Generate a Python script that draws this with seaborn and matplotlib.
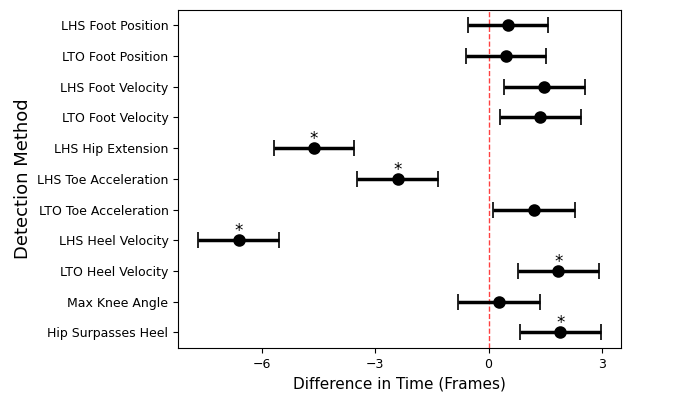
import numpy as np
import pandas as pd
import seaborn as sns
from matplotlib import pyplot as plt

methods = [
    "LHS Foot Position",
    "LTO Foot Position",
    "LHS Foot Velocity",
    "LTO Foot Velocity",
    "LHS Hip Extension",
    "LHS Toe Acceleration",
    "LTO Toe Acceleration",
    "LHS Heel Velocity",
    "LTO Heel Velocity",
    "Max Knee Angle",
    "Hip Surpasses Heel",
]
mean_diff = [0.52, 0.47, 1.48, 1.37, -4.62, -2.40, 1.21, -6.60, 1.85, 0.28, 1.90]
ci_low = [-0.54, -0.60, 0.41, 0.31, -5.68, -3.47, 0.12, -7.68, 0.79, -0.80, 0.83]
ci_high = [1.58, 1.53, 2.55, 2.44, -3.55, -1.34, 2.28, -5.53, 2.92, 1.36, 2.97]
significant = [False, False, False, False, True, True, False, True, True, False, True]

df = pd.DataFrame(
    {"Method": methods, "Mean": mean_diff, "Low": ci_low, "High": ci_high, "Sig": significant}
)

sns.set_style(
    "ticks",
    {
        "text.color": "black",
        "axes.labelcolor": "black",
        "xtick.color": "black",
        "ytick.color": "black",
        "axes.edgecolor": "black",
    },
)
plt.rcParams["font.family"] = ["DejaVu Sans"]

fig = plt.figure(figsize=(6.96, 3.93), dpi=100)
ax = fig.add_axes([0.256, 0.115, 0.636, 0.86])

# zero line
ax.axvline(0, color="red", linestyle="--", linewidth=1, alpha=0.75, zorder=1)

# confidence intervals
pos = np.arange(len(df))
ax.errorbar(
    df["Mean"],
    pos,
    xerr=[df["Mean"] - df["Low"], df["High"] - df["Mean"]],
    fmt="none",
    ecolor="black",
    elinewidth=2.5,
    capsize=6,
    capthick=1.2,
    zorder=2,
)

# means
sns.pointplot(
    data=df,
    x="Mean",
    y="Method",
    order=methods,
    linestyle="none",
    errorbar=None,
    color="black",
    markersize=7,
    ax=ax,
    zorder=3,
)

# significance stars
for i, row in df.iterrows():
    if row["Sig"]:
        ax.annotate(
            "*",
            (row["Mean"], i),
            xytext=(0, 0),
            textcoords="offset points",
            ha="center",
            va="bottom",
            fontsize=12,
        )

ax.set_xticks([-6, -3, 0, 3])
ax.set_xlim(-8.21, 3.50)
ax.set_ylim(len(df) - 0.5, -0.5)
ax.set_xlabel("Difference in Time (Frames)", fontsize=11)
ax.set_ylabel("Detection Method", fontsize=13)
ax.tick_params(labelsize=9)

fig.savefig("out.png", dpi=100)
